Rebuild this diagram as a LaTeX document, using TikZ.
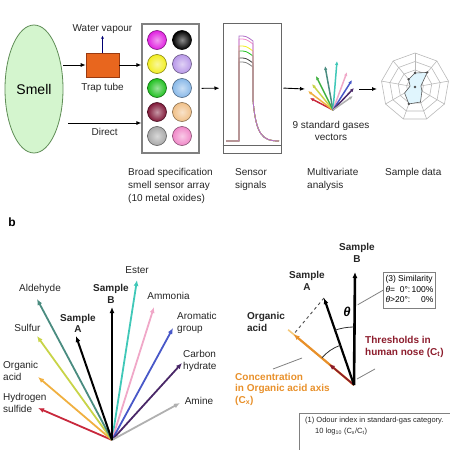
\documentclass[tikz,border=0pt]{standalone}
\usepackage{fontspec}
\setmainfont{Liberation Sans}
\usetikzlibrary{shapes.geometric, positioning, arrows.meta, calc}

\definecolor{smellfill}{HTML}{D4F5CE}
\definecolor{smelldraw}{HTML}{5E8C55}
\definecolor{traporange}{HTML}{E8661E}
\definecolor{trapdraw}{HTML}{9A3A10}
\definecolor{sMagenta}{HTML}{E020E0}
\definecolor{sYellow}{HTML}{F2EE20}
\definecolor{sLilac}{HTML}{B898E8}
\definecolor{sGreen}{HTML}{20C020}
\definecolor{sBlue}{HTML}{88B8E8}
\definecolor{sMaroon}{HTML}{801838}
\definecolor{sPeach}{HTML}{F0C088}
\definecolor{sGrey}{HTML}{A8A8A8}
\definecolor{sPink}{HTML}{F088C8}
\definecolor{sPurple}{HTML}{B070C8}
\definecolor{gasred}{HTML}{C8283C}
\definecolor{gasorange}{HTML}{F0B040}
\definecolor{gasyellow}{HTML}{C8D448}
\definecolor{gasgreen}{HTML}{40B040}
\definecolor{gasteal}{HTML}{4A8C80}
\definecolor{gascyan}{HTML}{40C8B8}
\definecolor{gaspink}{HTML}{F0A8C8}
\definecolor{gasblue}{HTML}{4858C8}
\definecolor{gaspurple}{HTML}{4A2868}
\definecolor{gasgrey}{HTML}{B0B0B0}
\definecolor{threshred}{HTML}{8C1C2C}
\definecolor{concorange}{HTML}{E8902A}

\begin{document}
\begin{tikzpicture}[x=1pt, y=1pt, font=\fontsize{10}{12}\selectfont,
    arr/.style={-{Latex[length=5pt, width=4pt]}, line width=0.9pt},
    sensor/.style={circle, minimum size=19pt, inner sep=0pt, draw=#1!55!black, line width=0.6pt, inner color=#1!45, outer color=#1},
    gas/.style={draw=#1, line width=1.8pt, -{Latex[length=6pt, width=5pt]}},
    fanvec/.style={draw=#1, line width=1.5pt, -{Latex[length=4pt, width=3.5pt]}},
    leader/.style={draw=gray, line width=0.8pt},
    txt/.style={inner sep=0pt, text=black!85, align=left},
    bold/.style={txt, font=\fontsize{10}{11.5}\bfseries\selectfont}]
    \clip (0,0) rectangle (450,-450);

    % a: from smell to sample data
    \node[ellipse, draw=smelldraw, line width=0.8pt, fill=smellfill, minimum width=58pt, minimum height=128pt, inner sep=0pt, font=\fontsize{14}{16}\selectfont] (smell) at (34,-89) {Smell};
    \node[draw=trapdraw, line width=0.6pt, fill=traporange, minimum width=33pt, minimum height=24pt, inner sep=0pt] (trap) at (102.5,-65) {};
    \node[txt, below=6pt of trap] (trapname) {Trap tube};
    \node[txt, above=19pt of trap] (vapour) {Water vapour};
    \node[draw=gray, line width=1.2pt, minimum width=57pt, minimum height=129pt] (array) at (170.5,-88.5) {};
    \foreach \ca/\cb [count=\r] in {sMagenta/black, sYellow/sLilac, sGreen/sBlue, sMaroon/sPeach, sGrey/sPink} {
        \node[sensor=\ca] (sa\r) at (157,-16-24*\r) {};
        \node[sensor=\cb] (sb\r) at (182,-16-24*\r) {};
    }
    \node[draw=gray!80!black, line width=1pt, minimum width=58pt, minimum height=130pt] (signal) at (252,-88) {};
    \draw[gray!80!black, line width=0.8pt] ([yshift=8pt]signal.south west) -- ([yshift=8pt]signal.south east);
    \foreach \c/\h in {gray/62, black!75/58, sGreen/51, sYellow/46, sPink/39, sPurple/36} {
        \draw[\c, line width=0.8pt] (226,-141) -- (239,-141) -- (239,-\h) .. controls (246,-\h) .. (253,-\h-5) -- (253,-100) .. controls (256,-136) and (263,-141) .. (279,-141);
    }
    % gas vectors
    \coordinate (fan) at (333,-110);
    \foreach \c/\x/\y in {gasred/310/98, gasorange/308/91, gasyellow/312/84, gasgreen/316/76, gasteal/325/66, gascyan/337/61, gaspink/347/72, gasblue/352/80, gaspurple/354/88, gasgrey/353/96}
        \draw[fanvec=\c] (fan) -- (\x,-\y);
    \node[txt, align=center] (fanname) at (331,-131) {9 standard gases\\vectors};
    % sample data web
    \coordinate (web) at (415,-87);
    \foreach \r in {8.5, 17, 25.5, 34}
        \draw[gray!55, line width=0.6pt, shift={(web)}] (90:\r) \foreach \a in {1,...,8} { -- (90+40*\a:\r) } -- cycle;
    \foreach \a in {0,...,8}
        \draw[gray!55, line width=0.6pt] (web) -- ++(90+40*\a:34);
    \draw[gray!70!black, fill=cyan!12, line width=0.6pt, shift={(web)}] (90:14) -- (130:10) -- (170:5) -- (210:12) -- (250:18) -- (290:16) -- (330:8) -- (10:6) -- (50:19) -- cycle;
    \foreach \a/\r in {90/14, 130/10, 50/19, 250/18, 0/0}
        \fill[black!70, shift={(web)}] (\a:\r) circle (1.3pt);

    % arrows of a
    \coordinate (direct) at (68,-123);
    \coordinate (fanin) at (305,-89);
    \coordinate (fanout) at (359,-89);
    \coordinate (webin) at (377,-89);
    \draw[arr] (smell.east |- trap.west) -- (trap.west);
    \draw[arr] (trap.east) -- (array.west |- trap.east);
    \draw[-{Latex[length=3pt, width=3pt]}, draw=blue!45!black, line width=0.6pt] (trap.north) -- ([yshift=-2pt]vapour.south);
    \draw[arr] (direct) -- (array.west |- direct) node[midway, below=5pt, txt] (directname) {Direct};
    \draw[arr, shorten <=2pt, shorten >=3pt] (array) -- (signal);
    \draw[arr, shorten <=2pt] (signal.east) -- (fanin);
    \draw[arr] (fanout) -- (webin);
    \node[txt, anchor=north west, font=\fontsize{10}{13}\selectfont] (arrayname) at (128,-168) {Broad specification\\smell sensor array\\(10 metal oxides)};
    \node[txt, anchor=north west, font=\fontsize{10}{13}\selectfont] (signalname) at (235,-168) {Sensor\\signals};
    \node[txt, anchor=north west, font=\fontsize{10}{13}\selectfont] (mvaname) at (307,-168) {Multivariate\\analysis};
    \node[txt, anchor=north west] (webname) at (385,-168) {Sample data};

    % b: standard gas axes
    \node[inner sep=0pt, font=\fontsize{12}{12}\bfseries\selectfont] (b) at (12,-222) {b};
    \coordinate (lo) at (112,-440);
    \foreach \c/\x/\y/\n in {gasred/38/408/hs, gasorange/38/377/oa, gasyellow/37/336/su, gasteal/37/299/al, gascyan/137/280/es, gaspink/154/307/am, gasblue/173/328/ag, gaspurple/182/363/ch, gasgrey/180/403/an}
        \draw[gas=\c] (lo) -- (\x,-\y) coordinate (\n);
    \draw[gas=black, line width=2pt] (lo) -- (76,-336) coordinate (sampleA);
    \draw[gas=black, line width=2.6pt] (lo) -- (112,-307) coordinate (sampleB);
    \node[txt] (hsname) at (3,-403) [anchor=west] {Hydrogen\\sulfide};
    \node[txt] (oaname) at (3,-371) [anchor=west] {Organic\\acid};
    \node[txt] (suname) at (27.5,-328) {Sulfur};
    \node[txt] (alname) at (40,-289) {Aldehyde};
    \node[bold, align=center] (saname) at (78,-323.5) {Sample\\A};
    \node[bold, align=center] (sbname) at (111,-294) {Sample\\B};
    \node[txt] (esname) at (137,-270) {Ester};
    \node[txt] (amname) at (168.5,-296) {Ammonia};
    \node[txt, anchor=west] (agname) at (177,-322.5) {Aromatic\\group};
    \node[txt, anchor=west] (chname) at (183,-360.5) {Carbon\\hydrate};
    \node[txt] (anname) at (199,-401) {Amine};

    % b: similarity and odour index
    \coordinate (ro) at (354,-385);
    \coordinate (rb) at (355,-272);
    \coordinate (ra) at (324,-298);
    \coordinate (oac) at ($(ro)+(140:86)$);
    \coordinate (foot) at ($(ro)!(ra)!(oac)$);
    \draw[gasorange!70, line width=1.6pt] (ro) -- (oac);
    \draw[gas=concorange, line width=2.2pt] (ro) -- (foot);
    \draw[gas=threshred, line width=1.6pt] (ro) -- ($(ro)!0.38!(oac)$);
    \draw[dashed, gray!60!black, line width=0.9pt] (ra) -- (foot);
    \draw[gas=black, line width=2.2pt] (ro) -- (ra);
    \draw[gas=black, line width=2.6pt] (ro) -- (rb);
    \draw[gray!40!black, line width=0.8pt] ($(ro)+(90:58)$) arc[start angle=90, end angle=109, radius=58];
    \draw[gray!40!black, line width=0.8pt] ($(ro)+(109:42)$) arc[start angle=109, end angle=140, radius=42];
    \node[inner sep=0pt, font=\fontsize{13}{13}\bfseries\itshape\selectfont] (theta) at (347,-312) {θ};
    \node[bold, align=center] (rbname) at (357,-253) {Sample\\B};
    \node[bold, align=center] (raname) at (307,-281) {Sample\\A};
    \node[bold] (oacname) at (266,-322) {Organic\\acid};
    \node[bold, text=threshred, anchor=west] (thresh) at (365,-347) {Thresholds in\\human nose (C\textsubscript{t})};
    \node[bold, text=concorange, anchor=north west] (conc) at (235,-373) {Concentration\\in Organic acid axis\\(C\textsubscript{x})};
    \node[draw=gray, line width=1pt, inner sep=2pt, anchor=north west, font=\fontsize{8.5}{10.5}\selectfont] (sim) at (383,-272)
        {\begin{tabular}{@{}l@{\,}r@{}}\multicolumn{2}{@{}l@{}}{(3) Similarity}\\ \textit{θ}= \ 0°: & 100\%\\ \textit{θ}>20°: & 0\%\end{tabular}};
    \coordinate (simend) at ($(ro)!0.71!(rb)+(3,0)$);
    \coordinate (threshA) at ($(ro)+(3,6)$);
    \coordinate (threshB) at ($(ro)+(21,16)$);
    \coordinate (concA) at (273,-369);
    \coordinate (concB) at (302,-358);
    \draw[leader] (sim.west) -- (simend);
    \draw[leader] (threshA) -- (threshB);
    \draw[leader] (concA) -- (concB);
    \node[draw=gray, line width=1pt, anchor=north west, minimum width=152pt, minimum height=45pt] (odour) at (299,-413) {};
    \node[txt, font=\fontsize{7.5}{11}\selectfont, anchor=north west] (odourtxt) at ([xshift=6pt, yshift=-3.5pt]odour.north west)
        {(1) Odour index in standard-gas category.\\\hspace{10pt}10 log\textsubscript{10} (C\textsubscript{x}/C\textsubscript{t})};
\end{tikzpicture}
\end{document}
